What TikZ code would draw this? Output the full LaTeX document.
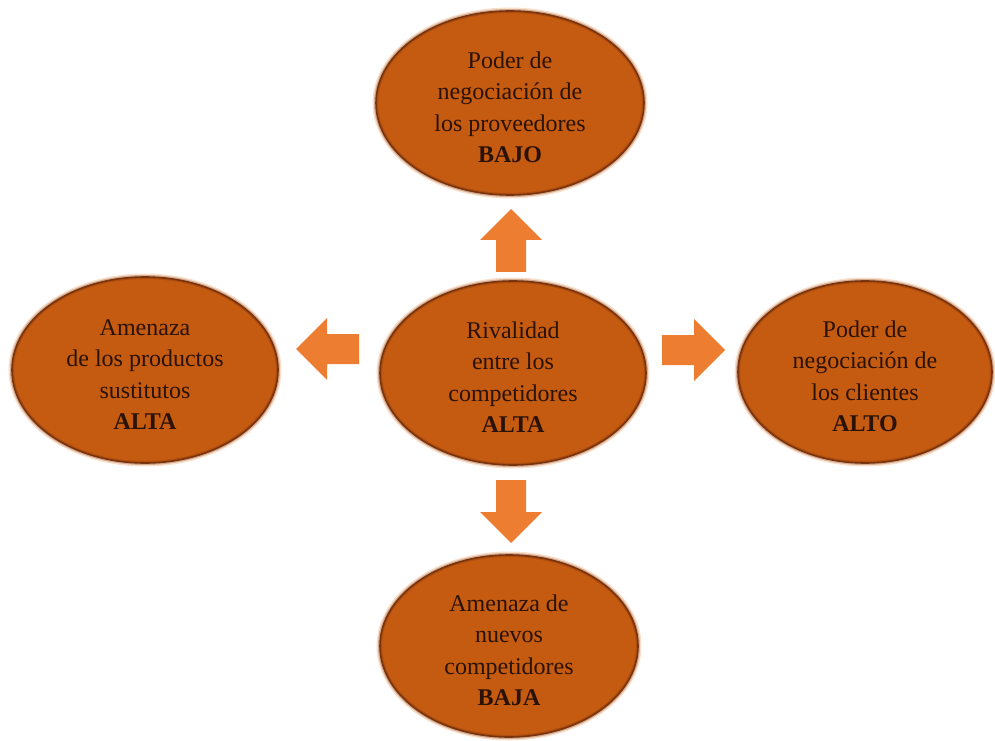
\documentclass[tikz,border=0pt]{standalone}
\usepackage{fontspec}
\setmainfont{Liberation Serif}
\usetikzlibrary{shapes.geometric}
\definecolor{ellfill}{HTML}{C55A11}
\definecolor{elledge}{HTML}{7A330C}
\definecolor{arrowfill}{HTML}{ED7D31}
\definecolor{txt}{HTML}{2A1205}
\definecolor{glow}{HTML}{F4C9A8}
\newcommand{\ftext}[1]{\raisebox{-6pt}[\height][\depth]{\begin{tabular}{@{}c@{}}#1\end{tabular}}}
\tikzset{
  force/.style={ellipse, inner sep=-12pt, fill=ellfill, draw=elledge, line width=1.6pt,
    text=txt, font=\fontsize{24}{31.5}\selectfont,
    preaction={draw=glow, line width=7pt, opacity=0.6},
    postaction={draw=elledge, line width=4pt, opacity=0.3}},
  pics/blockarrow/.style={code={
    \fill[arrowfill] (0,-15) -- (32,-15) -- (32,-31) -- (63,0) -- (32,31) -- (32,15) -- (0,15) -- cycle;}}
}
\begin{document}
\begin{tikzpicture}[x=1pt,y=1pt]
\useasboundingbox (0,0) rectangle (995,740);
\node[force, minimum width=268pt, minimum height=184pt] (top) at (510,637)
  {\ftext{Poder de\\negociación de\\los proveedores\\\textbf{BAJO}}};
\node[force, minimum width=266pt, minimum height=184pt] (mid) at (513,367)
  {\ftext{Rivalidad\\entre los\\competidores\\\textbf{ALTA}}};
\node[force, minimum width=266pt, minimum height=186pt] (left) at (145,370)
  {\ftext{Amenaza\\de los productos\\sustitutos\\\textbf{ALTA}}};
\node[force, minimum width=254pt, minimum height=182pt] (right) at (865,368)
  {\ftext{Poder de\\negociación de\\los clientes\\\textbf{ALTO}}};
\node[force, minimum width=258pt, minimum height=182pt] (bottom) at (509,94)
  {\ftext{Amenaza de\\nuevos\\competidores\\\textbf{BAJA}}};
\pic[rotate=90] at (511,468) {blockarrow};
\pic[rotate=-90] at (511,260) {blockarrow};
\pic at (662,390) {blockarrow};
\pic[rotate=180] at (359,391) {blockarrow};
\end{tikzpicture}
\end{document}
